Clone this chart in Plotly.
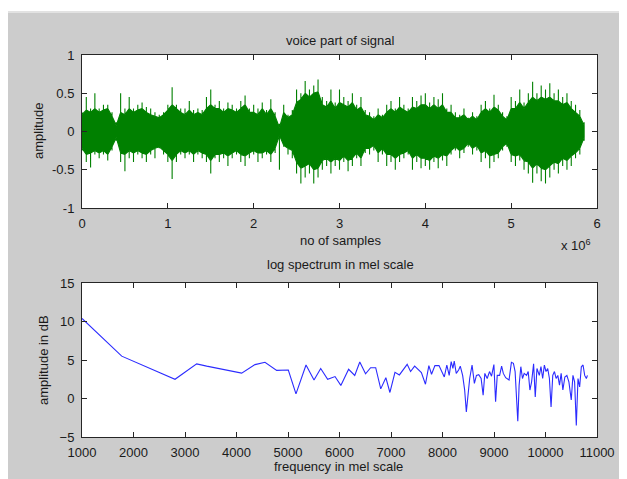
import plotly.graph_objects as go

# ---- top panel: voice signal (x in units of 1e6 samples) ----
sample_pos = [round(i * 0.05, 2) for i in range(118)]
# dense-core level of the waveform at each position
core_upper = [0.22, 0.28, 0.25, 0.30, 0.25, 0.28, 0.30, 0.20,
              0.08, 0.25, 0.22, 0.30, 0.25, 0.28, 0.30, 0.25, 0.22, 0.20, 0.18, 0.22,
              0.28, 0.35, 0.30, 0.25, 0.22, 0.28, 0.22, 0.25, 0.22, 0.30,
              0.35, 0.30, 0.30, 0.25, 0.30, 0.28, 0.25, 0.30, 0.35, 0.25,
              0.25, 0.22, 0.30, 0.22, 0.30, 0.20, 0.05, 0.25, 0.18, 0.22,
              0.38, 0.42, 0.50, 0.45, 0.50, 0.52, 0.35, 0.32, 0.40, 0.30,
              0.38, 0.35, 0.32, 0.38, 0.28, 0.32, 0.22, 0.20, 0.15, 0.22,
              0.18, 0.25, 0.30, 0.25, 0.32, 0.28, 0.25, 0.32, 0.30, 0.35,
              0.35, 0.30, 0.35, 0.30, 0.35, 0.25, 0.25, 0.18, 0.18, 0.22,
              0.15, 0.20, 0.15, 0.25, 0.30, 0.25, 0.32, 0.28, 0.20, 0.15,
              0.30, 0.30, 0.38, 0.30, 0.38, 0.45, 0.40, 0.45, 0.42, 0.45,
              0.40, 0.40, 0.35, 0.38, 0.30, 0.25, 0.20, 0.08]
core_lower = [-0.22, -0.30, -0.28, -0.25, -0.28, -0.25, -0.30, -0.20,
              -0.08, -0.28, -0.30, -0.25, -0.28, -0.25, -0.28, -0.30, -0.25, -0.22, -0.20, -0.25,
              -0.30, -0.38, -0.30, -0.25, -0.28, -0.25, -0.30, -0.25, -0.28, -0.30,
              -0.38, -0.30, -0.30, -0.28, -0.32, -0.28, -0.25, -0.30, -0.32, -0.28,
              -0.25, -0.28, -0.28, -0.25, -0.30, -0.22, -0.05, -0.18, -0.22, -0.25,
              -0.40, -0.48, -0.45, -0.42, -0.50, -0.48, -0.38, -0.35, -0.40, -0.35,
              -0.38, -0.32, -0.38, -0.35, -0.28, -0.35, -0.22, -0.22, -0.18, -0.28,
              -0.22, -0.30, -0.30, -0.35, -0.30, -0.28, -0.25, -0.35, -0.30, -0.35,
              -0.35, -0.38, -0.32, -0.35, -0.30, -0.32, -0.25, -0.20, -0.25, -0.22,
              -0.15, -0.22, -0.18, -0.28, -0.25, -0.32, -0.30, -0.28, -0.20, -0.15,
              -0.30, -0.32, -0.30, -0.38, -0.40, -0.48, -0.42, -0.48, -0.50, -0.45,
              -0.40, -0.42, -0.35, -0.38, -0.32, -0.28, -0.22, -0.08]
# spike (peak) level of the waveform at each position
upper_env = [0.25, 0.45, 0.30, 0.50, 0.30, 0.35, 0.35, 0.25, 0.12, 0.50,
             0.30, 0.45, 0.30, 0.35, 0.38, 0.32, 0.30, 0.25, 0.22, 0.25,
             0.35, 0.58, 0.35, 0.30, 0.30, 0.40, 0.28, 0.30, 0.28, 0.45,
             0.55, 0.35, 0.40, 0.30, 0.38, 0.35, 0.30, 0.40, 0.47, 0.30,
             0.35, 0.30, 0.38, 0.28, 0.42, 0.25, 0.10, 0.35, 0.22, 0.28,
             0.55, 0.50, 0.66, 0.55, 0.60, 0.68, 0.45, 0.40, 0.55, 0.38,
             0.55, 0.45, 0.40, 0.50, 0.35, 0.45, 0.28, 0.25, 0.20, 0.30,
             0.22, 0.35, 0.40, 0.30, 0.45, 0.35, 0.30, 0.45, 0.40, 0.47,
             0.50, 0.38, 0.45, 0.42, 0.50, 0.30, 0.35, 0.25, 0.22, 0.30,
             0.18, 0.25, 0.20, 0.35, 0.40, 0.30, 0.48, 0.35, 0.25, 0.20,
             0.45, 0.40, 0.55, 0.38, 0.50, 0.65, 0.50, 0.60, 0.55, 0.63,
             0.50, 0.55, 0.45, 0.50, 0.40, 0.35, 0.28, 0.12]
lower_env = [-0.25, -0.40, -0.47, -0.30, -0.35, -0.30, -0.38, -0.25, -0.12, -0.40,
             -0.52, -0.35, -0.40, -0.30, -0.35, -0.40, -0.30, -0.35, -0.22, -0.30,
             -0.40, -0.62, -0.40, -0.30, -0.35, -0.30, -0.40, -0.30, -0.35, -0.40,
             -0.55, -0.35, -0.40, -0.35, -0.45, -0.35, -0.30, -0.40, -0.45, -0.35,
             -0.30, -0.40, -0.35, -0.30, -0.40, -0.28, -0.50, -0.20, -0.30, -0.35,
             -0.55, -0.68, -0.60, -0.55, -0.68, -0.60, -0.50, -0.45, -0.55, -0.45,
             -0.50, -0.40, -0.52, -0.45, -0.35, -0.45, -0.28, -0.30, -0.25, -0.40,
             -0.30, -0.45, -0.40, -0.50, -0.40, -0.35, -0.30, -0.50, -0.40, -0.48,
             -0.45, -0.50, -0.40, -0.48, -0.38, -0.45, -0.30, -0.25, -0.35, -0.28,
             -0.20, -0.30, -0.25, -0.40, -0.35, -0.48, -0.40, -0.35, -0.25, -0.20,
             -0.40, -0.45, -0.38, -0.50, -0.55, -0.67, -0.55, -0.65, -0.68, -0.60,
             -0.50, -0.55, -0.45, -0.50, -0.45, -0.35, -0.30, -0.12]

# ---- bottom panel: log spectrum in mel scale ----
mel_freq = [1000, 1382, 1771, 2806, 3227, 3421, 3810, 4100, 4359, 4553,
            4780, 4910, 5006, 5155, 5350, 5505, 5635, 5770, 5913, 6026,
            6177, 6296, 6394, 6506, 6604, 6703, 6801, 6900, 6979, 7077,
            7163, 7314, 7380, 7459, 7590, 7669, 7735, 7787, 7853, 7932,
            7986, 8035, 8084, 8130, 8169, 8202, 8228, 8267, 8313, 8345,
            8391, 8430, 8463, 8495, 8528, 8574, 8619, 8659, 8704, 8750,
            8789, 8822, 8868, 8913, 8952, 8998, 9031, 9063, 9109, 9148,
            9181, 9227, 9292, 9338, 9377, 9410, 9436, 9462, 9488, 9521,
            9553, 9586, 9632, 9664, 9697, 9730, 9769, 9801, 9834, 9880,
            9912, 9945, 9978, 10010, 10043, 10076, 10108, 10141, 10174, 10206,
            10239, 10272, 10304, 10337, 10376, 10415, 10454, 10500, 10533, 10565,
            10598, 10631, 10663, 10696, 10729, 10761, 10794, 10814]
amp_db = [10.4, 8.0, 5.5, 2.5, 4.5, 4.2, 3.65, 3.3, 4.4, 4.7,
          3.65, 3.7, 3.7, 0.6, 4.35, 2.4, 3.9, 2.5, 2.85, 1.7,
          3.8, 3.0, 4.74, 3.2, 4.0, 4.0, 1.25, 2.7, 0.78, 3.4,
          3.06, 4.44, 3.5, 4.2, 3.36, 1.85, 4.27, 3.15, 4.27, 4.27,
          3.5, 2.8, 4.35, 3.0, 4.8, 3.9, 4.87, 3.26, 3.7, 4.2,
          3.0, 1.1, -1.74, 0.43, 2.6, 4.35, 1.96, 3.0, 3.1, 2.6,
          0.43, 3.26, 2.6, 3.5, 2.9, 4.4, -0.43, 3.0, 3.0, 4.2,
          3.26, 2.7, 2.4, 4.7, 4.57, 3.5, 0.0, -2.96, 1.74, 4.13,
          2.6, 3.26, 3.0, 3.5, 1.1, 2.17, 4.5, 0.2, 3.9, 3.0,
          4.13, 2.6, 4.35, 3.5, 3.9, 2.6, -1.1, 3.0, 3.5, 2.6,
          3.0, 1.74, 3.26, 1.1, 2.8, 3.0, 2.17, -0.2, 3.0, 2.17,
          -3.5, 2.6, 1.5, 4.13, 4.35, 3.0, 2.6, 3.0]

top_xticks = [0, 1, 2, 3, 4, 5, 6]
top_yticks = [-1, -0.5, 0, 0.5, 1]
top_yticklabels = ["-1", "-0.5", "0", "0.5", "1"]
bot_xticks = [1000, 2000, 3000, 4000, 5000, 6000, 7000, 8000, 9000, 10000, 11000]
bot_xticklabels = [str(v) for v in bot_xticks]
bot_yticks = [-5, 0, 5, 10, 15]

# page body has an 8px margin, so the figure starts at (8, 8) on screen
OFF = 8
W, H = 627 - OFF, 479 - OFF
L, R, T, B = 82 - OFF, 597 - OFF, 55 - OFF, 437 - OFF
PW, PH = R - L, B - T


def px(x):  # screen pixel -> paper x
    return (x - OFF - L) / PW


def py(y):  # screen pixel -> paper y
    return (B - (y - OFF)) / PH


# waveform outline: core edge with a thin vertical spike at every position
wx, wy = [], []
for p, c, s in zip(sample_pos, core_upper, upper_env):
    wx += [p, p, p]
    wy += [c, s, c]
for p, c, s in zip(sample_pos[::-1], core_lower[::-1], lower_env[::-1]):
    wx += [p, p, p]
    wy += [c, s, c]

green = "#008000"
fig = go.Figure()
fig.add_trace(go.Scatter(
    x=wx, y=wy, fill="toself", fillcolor=green, mode="lines",
    line=dict(color=green, width=1.1),
    xaxis="x", yaxis="y", showlegend=False, hoverinfo="skip"))
fig.add_trace(go.Scatter(
    x=mel_freq, y=amp_db, mode="lines",
    line=dict(color="#2b2bff", width=1.1),
    xaxis="x2", yaxis="y2", showlegend=False))

font = dict(family="Liberation Sans, Arial, sans-serif", size=13, color="#1a1a1a")
axis_common = dict(showline=True, linecolor="#262626", linewidth=1, mirror="ticks",
                   ticks="inside", ticklen=5, tickcolor="#262626", showgrid=False,
                   zeroline=False, tickfont=font)

top_dom = [py(208), 1.0]
bot_dom = [0.0, py(283)]

fig.update_layout(
    width=W, height=H,
    margin=dict(l=L, r=W - R, t=T, b=H - B),
    paper_bgcolor="#cccccc", plot_bgcolor="white",
    font=font,
    xaxis=dict(axis_common, domain=[0, 1], range=[0, 6], tickvals=top_xticks,
               anchor="y", ticklabelstandoff=3),
    yaxis=dict(axis_common, domain=top_dom, range=[-1, 1], tickvals=top_yticks,
               ticktext=top_yticklabels, anchor="x", ticklabelstandoff=4),
    xaxis2=dict(axis_common, domain=[0, 1], range=[1000, 11000], tickvals=bot_xticks,
                ticktext=bot_xticklabels, anchor="y2", ticklabelstandoff=3),
    yaxis2=dict(axis_common, domain=bot_dom, range=[-5, 15], tickvals=bot_yticks,
                anchor="x2", ticklabelstandoff=4),
    shapes=[
        dict(type="rect", xref="paper", yref="paper", x0=px(0), x1=px(640),
             y0=py(11), y1=py(0), fillcolor="white", line=dict(width=0), layer="below"),
        dict(type="line", xref="paper", yref="paper", x0=px(0), x1=px(640),
             y0=py(12), y1=py(12), line=dict(color="#e2e2e2", width=2), layer="below"),
    ],
    annotations=[
        dict(text="voice part of signal", x=px(340), y=py(40), xref="paper", yref="paper",
             showarrow=False, font=font, xanchor="center", yanchor="middle"),
        dict(text="log spectrum in mel scale", x=px(340), y=py(264), xref="paper", yref="paper",
             showarrow=False, font=font, xanchor="center", yanchor="middle"),
        dict(text="no of samples", x=px(340), y=py(240), xref="paper", yref="paper",
             showarrow=False, font=font, xanchor="center", yanchor="middle"),
        dict(text="frequency in mel scale", x=px(338), y=py(466), xref="paper", yref="paper",
             showarrow=False, font=font, xanchor="center", yanchor="middle"),
        dict(text="amplitude", x=px(38), y=py(131), xref="paper", yref="paper",
             showarrow=False, font=font, textangle=-90, xanchor="center", yanchor="middle"),
        dict(text="amplitude in dB", x=px(43), y=py(360), xref="paper", yref="paper",
             showarrow=False, font=font, textangle=-90, xanchor="center", yanchor="middle"),
        dict(text="x 10<sup>6</sup>", x=px(576), y=py(245), xref="paper", yref="paper",
             showarrow=False, font=font, xanchor="center", yanchor="middle"),
    ],
)

fig.write_html("out.html", post_script="document.documentElement.style.overflow='hidden';document.body.style.overflow='hidden';")
